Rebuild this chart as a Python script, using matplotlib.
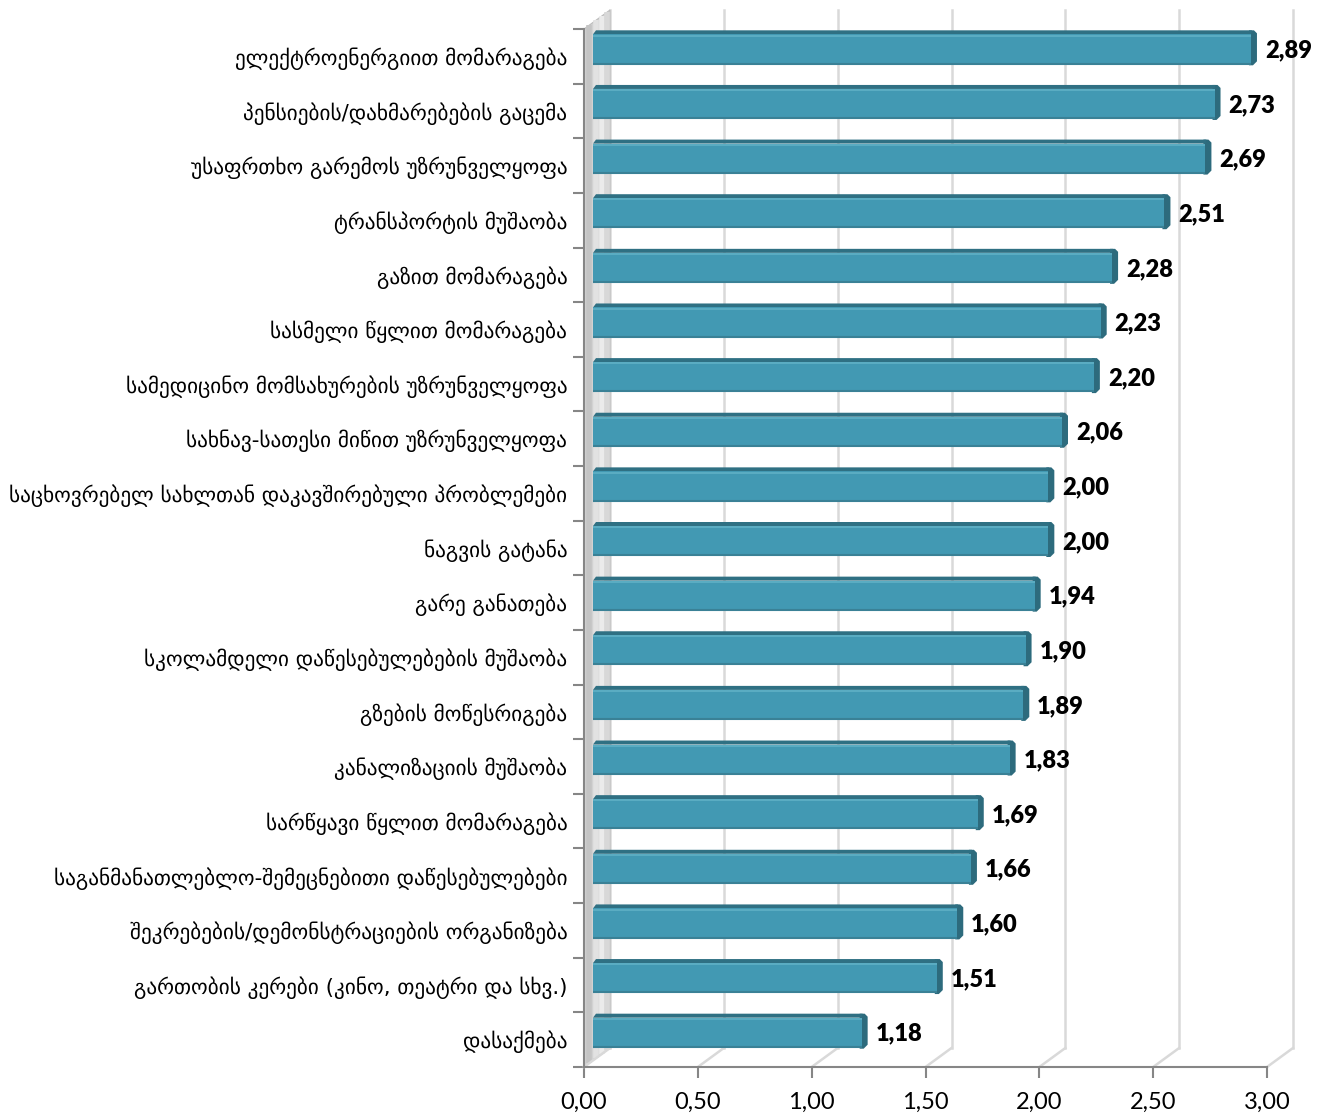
import matplotlib
matplotlib.use("Agg")
import matplotlib.pyplot as plt
from matplotlib.patches import Polygon
import numpy as np

# ---------------- data ----------------
categories = [
    "ელექტროენერგიით მომარაგება",
    "პენსიების/დახმარებების გაცემა",
    "უსაფრთხო გარემოს უზრუნველყოფა",
    "ტრანსპორტის მუშაობა",
    "გაზით მომარაგება",
    "სასმელი წყლით მომარაგება",
    "სამედიცინო მომსახურების უზრუნველყოფა",
    "სახნავ-სათესი მიწით უზრუნველყოფა",
    "საცხოვრებელ სახლთან დაკავშირებული პრობლემები",
    "ნაგვის გატანა",
    "გარე განათება",
    "სკოლამდელი დაწესებულებების მუშაობა",
    "გზების მოწესრიგება",
    "კანალიზაციის მუშაობა",
    "სარწყავი წყლით მომარაგება",
    "საგანმანათლებლო-შემეცნებითი დაწესებულებები",
    "შეკრებების/დემონსტრაციების ორგანიზება",
    "გართობის კერები (კინო, თეატრი და სხვ.)",
    "დასაქმება",
]
values = [2.89, 2.73, 2.69, 2.51, 2.28, 2.23, 2.20, 2.06, 2.00, 2.00,
          1.94, 1.90, 1.89, 1.83, 1.69, 1.66, 1.60, 1.51, 1.18]
x_ticks = [0.0, 0.5, 1.0, 1.5, 2.0, 2.5, 3.0]

# ---------------- figure / layout ----------------
W, H, DPI = 1327, 1116, 100
fig = plt.figure(figsize=(W / DPI, H / DPI), dpi=DPI)
fig.patch.set_facecolor("white")

L, R, T, B = 584, 1267, 29, 1067   # front frame in pixels
ax = fig.add_axes([L / W, 1 - B / H, (R - L) / W, (B - T) / H])
n = len(categories)
xmin, xmax = 0.0, 3.0
ax.set_xlim(xmin, xmax)
ax.set_ylim(n - 0.5, -0.5)
ax.set_facecolor("none")

# pixel -> data conversion factors
px_x = (xmax - xmin) / (R - L)
px_y = n / (B - T)          # data units per pixel (positive = downward)

DX, DY = 26, 19             # 3D depth offset in pixels (right, up)
dx, dy = DX * px_x, DY * px_y

grid_c = "#d9d9d9"
axis_c = "#868686"

# back wall gridlines and floor lines
y_bot, y_top = n - 0.5, -0.5
for v in x_ticks:
    ax.plot([v + dx, v + dx], [y_bot - dy, y_top - dy], color=grid_c, lw=1.8,
            clip_on=False, zorder=1)
    if v > 0:
        ax.plot([v, v + dx], [y_bot, y_bot - dy], color=grid_c, lw=1.8,
                clip_on=False, zorder=1)

# left wall
wall = Polygon([[0, y_bot], [0, y_top], [dx, y_top - dy], [dx, y_bot - dy]],
               closed=True, facecolor="#d2d2d2", edgecolor="#bdbdbd", lw=0.8,
               clip_on=False, zorder=2)
ax.add_patch(wall)
for frac, col in [(0.2, "#c4c4c4"), (0.45, "#e2e2e2"), (0.7, "#ebebeb"), (0.9, "#d8d8d8")]:
    ax.plot([frac * dx, frac * dx], [y_bot - frac * dy, y_top - frac * dy],
            color=col, lw=4, clip_on=False, zorder=2, solid_capstyle="butt")
# floor corner (left)
ax.plot([0, dx], [y_bot, y_bot - dy], color=grid_c, lw=1.8, clip_on=False, zorder=2)

# ---------------- bars ----------------
front_c = "#4299b3"
top_c = "#2f7083"
side_c = "#2d6b7d"
x0 = 9 * px_x
for i, v in enumerate(values):
    yt = i - 22 * px_y      # top of front face
    yb = i + 8 * px_y       # bottom of front face
    ytt = yt - 4 * px_y     # top of top face
    xe = x0 + v
    side = Polygon([[xe - 2 * px_x, ytt], [xe + 3 * px_x, ytt], [xe + 6 * px_x, ytt + 3 * px_y],
                    [xe + 6 * px_x, yb - 3 * px_y], [xe + 2 * px_x, yb + 1 * px_y],
                    [xe - 2 * px_x, yb + 1 * px_y]],
                   closed=True, facecolor=side_c, edgecolor="none", zorder=4, clip_on=False)
    ax.add_patch(side)
    topf = Polygon([[x0, yt], [x0 + 3 * px_x, ytt], [xe + 1 * px_x, ytt], [xe, yt]],
                   closed=True, facecolor=top_c, edgecolor="none", zorder=4, clip_on=False)
    ax.add_patch(topf)
ax.barh(np.arange(n) - 7 * px_y, values, height=30 * px_y, left=x0,
        color=front_c, edgecolor="none", zorder=5)
for i, v in enumerate(values):
    yt = i - 22 * px_y
    yb = i + 8 * px_y
    ax.plot([x0, x0 + v], [yt + 1.2 * px_y, yt + 1.2 * px_y], color="#5fb0c6", lw=1.2,
            zorder=6, clip_on=False, solid_capstyle="butt")
    ax.plot([x0, x0 + v], [yb - 0.8 * px_y, yb - 0.8 * px_y], color="#3a8196", lw=1.5,
            zorder=6, clip_on=False, solid_capstyle="butt")
    ax.text(x0 + v + 14 * px_x, i - 6 * px_y, f"{v:.2f}".replace(".", ","),
            ha="left", va="center", fontsize=17, fontweight="heavy",
            family=["Lato", "DejaVu Sans"], color="black", zorder=7, clip_on=False)

# ---------------- axes ----------------
for s in ["top", "right"]:
    ax.spines[s].set_visible(False)
for s in ["left", "bottom"]:
    ax.spines[s].set_color(axis_c)
    ax.spines[s].set_linewidth(1.5)
    ax.spines[s].set_zorder(3)

ax.set_xticks(x_ticks)
ax.set_xticklabels([f"{t:.2f}".replace(".", ",") for t in x_ticks],
                   fontsize=17, family=["Lato", "DejaVu Sans"])
ax.tick_params(axis="x", length=8, width=1.5, color=axis_c, pad=10)

ax.set_yticks(np.arange(n))
ax.set_yticklabels(categories, fontsize=15.3, family=["DejaVu Sans"])
ax.tick_params(axis="y", which="major", length=0, pad=12)
ax.set_yticks(np.arange(n + 1) - 0.5, minor=True)
ax.tick_params(axis="y", which="minor", length=8, width=1.5, color=axis_c)

fig.savefig("out.png", dpi=DPI, facecolor="white")
